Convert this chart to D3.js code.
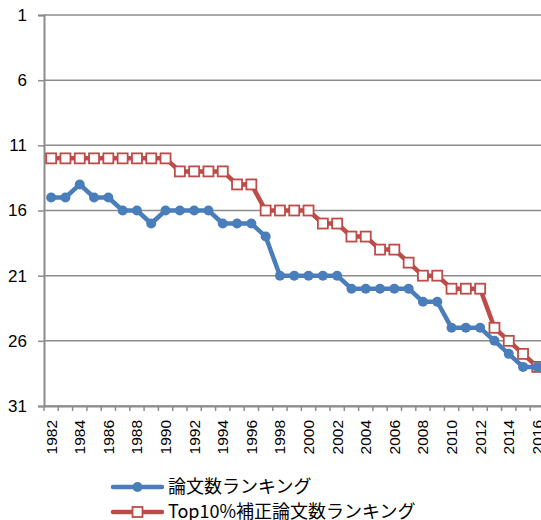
<!DOCTYPE html>
<html><head><meta charset="utf-8">
<script src="https://cdn.jsdelivr.net/npm/d3@7"></script>
<style>body{margin:0;background:#fff;}svg{display:block;}</style>
</head><body>
<svg id="c" width="541" height="520"></svg>
<script>
const years = d3.range(1982, 2017);
const seriesNames = ["論文数ランキング", "Top10%補正論文数ランキング"];
const papersRank = [15,15,14,15,15,16,16,17,16,16,16,16,17,17,17,18,21,21,21,21,21,22,22,22,22,22,23,23,25,25,25,26,27,28,28];
const top10Rank  = [12,12,12,12,12,12,12,12,12,13,13,13,13,14,14,16,16,16,16,17,17,18,18,19,19,20,21,21,22,22,22,25,26,27,28];
const yTicks = [1,6,11,16,21,26,31];

const svg = d3.select("#c");
const L = 44, T = 15, B = 406, bw = 14.3;
const R = L + bw * years.length;
const x = d3.scaleBand().domain(years).range([L, R]).padding(0);
const y = d3.scaleLinear().domain([1, 31]).range([T, B]);
const blue = "#4A7EBB", red = "#BE4B48", grid = "#8C8C8C";

// gridlines
svg.append("g").selectAll("line").data(yTicks).join("line")
  .attr("x1", L).attr("x2", 541).attr("y1", d => y(d)).attr("y2", d => y(d))
  .attr("stroke", grid).attr("stroke-width", 1.5);

// y axis
const ya = svg.append("g").attr("transform", `translate(${L},0)`)
  .call(d3.axisLeft(y).tickValues(yTicks).tickSize(6).tickPadding(11));
ya.select(".domain").attr("stroke", grid).attr("stroke-width", 2);
ya.selectAll(".tick line").attr("stroke", grid).attr("stroke-width", 1.5);
ya.selectAll("text").attr("font-family", "'Liberation Sans', Arial, sans-serif")
  .attr("font-size", 17).attr("fill", "#000");

// x axis
const xa = svg.append("g").attr("transform", `translate(0,${B})`)
  .call(d3.axisBottom(x).tickSize(0).tickFormat(d => d % 2 === 0 ? d : ""));
xa.select(".domain").attr("stroke", grid).attr("stroke-width", 2);
xa.selectAll("text").attr("font-family", "'Liberation Sans', Arial, sans-serif")
  .attr("font-size", 15.5).attr("fill", "#000")
  .attr("transform", "rotate(-90)").attr("text-anchor", "end")
  .attr("x", -14).attr("y", 0).attr("dy", "0.35em");
// boundary ticks
svg.append("g").selectAll("line").data(d3.range(years.length + 1)).join("line")
  .attr("x1", i => L + i * bw).attr("x2", i => L + i * bw)
  .attr("y1", B).attr("y2", B + 5).attr("stroke", grid).attr("stroke-width", 1.5);

const cx = d => x(d) + x.bandwidth() / 2;
const line = d3.line().x((d, i) => cx(years[i])).y(d => y(d));

// red series
svg.append("path").datum(top10Rank).attr("d", line).attr("fill", "none")
  .attr("stroke", red).attr("stroke-width", 4.5).attr("stroke-linejoin", "round");
svg.append("g").selectAll("rect").data(top10Rank).join("rect")
  .attr("x", (d, i) => cx(years[i]) - 5).attr("y", d => y(d) - 5)
  .attr("width", 10).attr("height", 10).attr("fill", "#fff")
  .attr("stroke", red).attr("stroke-width", 1.8);

// blue series
svg.append("path").datum(papersRank).attr("d", line).attr("fill", "none")
  .attr("stroke", blue).attr("stroke-width", 4.5).attr("stroke-linejoin", "round");
svg.append("g").selectAll("circle").data(papersRank).join("circle")
  .attr("cx", (d, i) => cx(years[i])).attr("cy", d => y(d)).attr("r", 5)
  .attr("fill", blue);

// legend
const lg = svg.append("g");
const items = [{name: seriesNames[0], c: blue, m: "circle"}, {name: seriesNames[1], c: red, m: "rect"}];
items.forEach((it, i) => {
  const ly = 487 + i * 25;
  lg.append("line").attr("x1", 113).attr("x2", 162).attr("y1", ly).attr("y2", ly)
    .attr("stroke", it.c).attr("stroke-width", 4.5).attr("stroke-linecap", "round");
  if (it.m === "circle") lg.append("circle").attr("cx", 137.5).attr("cy", ly).attr("r", 5).attr("fill", it.c);
  else lg.append("rect").attr("x", 132.5).attr("y", ly - 5).attr("width", 10).attr("height", 10)
    .attr("fill", "#fff").attr("stroke", it.c).attr("stroke-width", 1.8);
  lg.append("text").attr("x", 168).attr("y", ly).attr("dy", "0.36em")
    .attr("font-family", "'Noto Sans CJK JP', sans-serif").attr("font-size", 18)
    .attr("fill", "#000").text(it.name);
});
</script>
</body></html>
